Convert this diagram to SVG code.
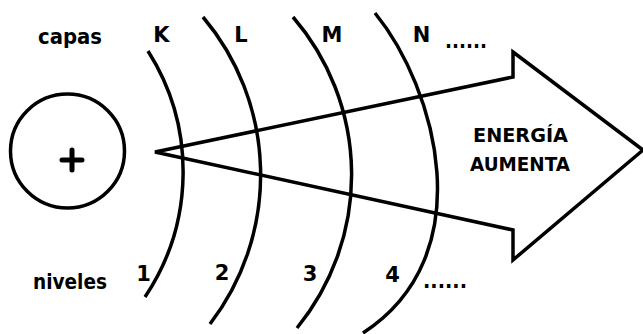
<svg xmlns="http://www.w3.org/2000/svg" width="643" height="334" viewBox="0 0 643 334">
<style>
.ln{fill:none;stroke:#000;stroke-width:3.5;stroke-linecap:butt;stroke-linejoin:miter}
.t{font-family:"DejaVu Sans","Liberation Sans",sans-serif;font-weight:bold;font-size:21px;fill:#000}
.c{text-anchor:middle}
.e{font-size:19px}
</style>
<rect width="643" height="334" fill="#fff"/>
<g id="nucleus">
<circle class="ln" cx="67.5" cy="151" r="57"/>
<path d="M62,160 H82 M72,150 V170" stroke="#000" stroke-width="5" stroke-linecap="round" fill="none"/>
</g>
<g id="arrow">
<path class="ln" d="M513,52 L643,150 L513,260 L513,230 L155,152 L513,77 Z"/>
<text class="t e c" x="520.5" y="142" textLength="95" lengthAdjust="spacingAndGlyphs">ENERGÍA</text>
<text class="t e c" x="520" y="171" textLength="100" lengthAdjust="spacingAndGlyphs">AUMENTA</text>
</g>
<g id="shells">
<path id="shell-K" class="ln" d="M148,51 A225,225 0 0 1 145,297"/>
<path id="shell-L" class="ln" d="M203,17 A245,245 0 0 1 210,324"/>
<path id="shell-M" class="ln" d="M293,17 A242,242 0 0 1 297,328"/>
<path id="shell-N" class="ln" d="M375,13 C436,88 483,255 363,333"/>
</g>
<g id="labels-capas">
<text class="t" x="38" y="44" textLength="64" lengthAdjust="spacingAndGlyphs">capas</text>
<text class="t c" x="161.5" y="42">K</text>
<text class="t c" x="241" y="42">L</text>
<text class="t c" x="332" y="42">M</text>
<text class="t c" x="421.5" y="42">N</text>
<text class="t" x="445" y="48" textLength="42" lengthAdjust="spacingAndGlyphs">......</text>
</g>
<g id="labels-niveles">
<text class="t" x="33" y="289" textLength="74" lengthAdjust="spacingAndGlyphs">niveles</text>
<text class="t c" x="143.5" y="281">1</text>
<text class="t c" x="222" y="280">2</text>
<text class="t c" x="310" y="281">3</text>
<text class="t c" x="392.5" y="282">4</text>
<text class="t" x="423" y="288" textLength="44" lengthAdjust="spacingAndGlyphs">......</text>
</g>
</svg>
